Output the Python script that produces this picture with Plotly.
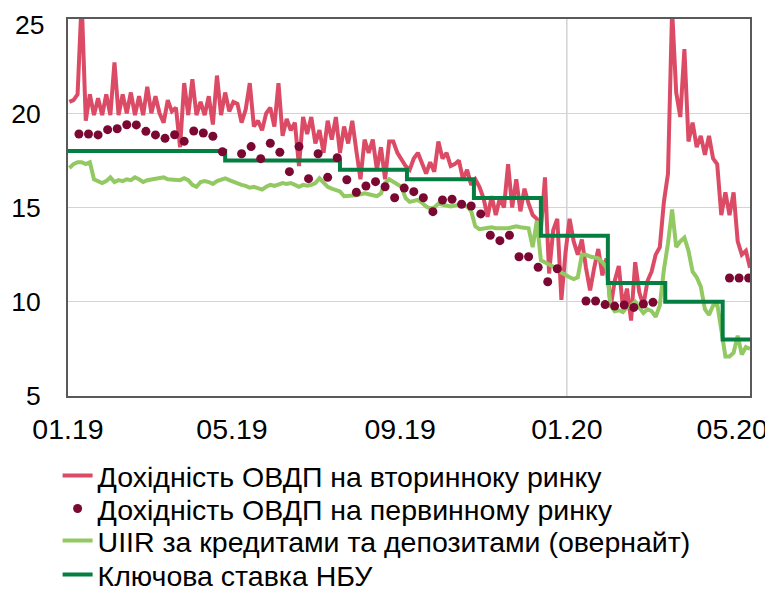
import pandas as pd
import plotly.graph_objects as go

# secondary market OVDP yield, read every 3 days from 02.01.2019
secondary = [
    20.6, 20.7, 21.0, 26.0, 19.6, 21.0, 19.9, 20.8, 19.9, 21.0,
    19.9, 22.7, 19.9, 21.0, 20.0, 21.1, 19.9, 20.9, 19.9, 21.4,
    20.0, 20.9, 20.0, 19.5, 20.7, 20.1, 20.3, 18.2, 21.6, 19.9,
    21.8, 19.9, 20.6, 19.9, 20.9, 19.4, 22.0, 19.9, 21.1, 20.1,
    20.6, 20.5, 19.5, 20.2, 21.6, 19.3, 19.6, 19.1, 20.0, 20.3,
    19.3, 21.6, 18.8, 19.7, 19.1, 19.5, 17.2, 19.8, 18.9, 19.8,
    18.4, 19.1, 17.9, 19.6, 18.6, 19.8, 17.9, 19.3, 18.4, 19.6,
    18.0, 16.5, 18.6, 17.9, 18.6, 17.0, 18.2, 16.5, 18.5, 18.5,
    17.9, 17.5, 17.2, 17.0, 17.6, 17.9, 17.4, 16.8, 17.4, 16.9,
    18.5, 17.6, 17.9, 17.2, 17.3, 17.5, 16.5, 17.0, 16.2, 16.5,
    16.1, 15.5, 14.5, 15.6, 14.6, 15.5, 15.0, 17.3, 15.0, 16.5,
    14.8, 16.0, 15.2, 14.6, 14.4, 13.8, 16.6, 11.5, 13.8, 14.4,
    10.1, 12.6, 14.4, 13.2, 12.5, 13.3, 11.8, 10.6, 11.8, 12.8,
    11.4, 12.3, 9.7, 11.1, 11.9, 9.7, 10.7, 9.0, 12.1, 10.5,
    9.8, 11.1, 11.6, 12.5, 12.9, 15.3, 16.8, 25.5, 21.1, 19.8,
    23.4, 18.5, 19.5, 18.2, 18.8, 17.8, 18.8, 17.6, 17.3, 14.6,
    15.8, 14.6, 15.8, 13.2, 12.5, 12.7, 11.8,
]

# UIIR overnight, same dates
uiir = [
    17.1, 17.3, 17.4, 17.4, 17.3, 17.4, 16.5, 16.4, 16.3, 16.4,
    16.6, 16.35, 16.45, 16.4, 16.5, 16.45, 16.6, 16.5, 16.35, 16.45,
    16.5, 16.5, 16.55, 16.6, 16.5, 16.5, 16.5, 16.45, 16.55, 16.45,
    16.2, 16.1, 16.35, 16.4, 16.35, 16.25, 16.4, 16.5, 16.55, 16.45,
    16.35, 16.25, 16.2, 16.15, 16.05, 16.1, 16.0, 15.95, 16.1, 16.2,
    16.15, 16.25, 16.3, 16.25, 16.3, 16.2, 16.1, 16.2, 16.15, 16.2,
    16.3, 16.55, 16.3, 16.1, 16.0, 15.95, 15.85, 15.6, 15.6, 15.6,
    15.65, 15.7, 15.75, 15.7, 15.65, 15.6, 15.75, 16.3, 16.5, 16.35,
    16.25, 16.1, 15.5, 15.3, 15.35, 15.4, 15.25, 15.05, 14.95, 15.0,
    15.2, 15.15, 15.1, 15.05, 15.1, 15.15, 15.1, 15.05, 14.8, 14.0,
    13.85, 13.9, 13.95, 13.95, 13.9, 13.9, 13.85, 13.9, 13.95, 14.0,
    13.95, 13.95, 13.9, 12.9, 14.3, 12.2, 12.1, 12.0, 11.9, 11.75,
    11.55, 11.4, 11.3, 11.2, 11.3, 12.5, 12.5, 12.4, 12.35, 12.3,
    12.1, 11.8, 9.8, 9.5, 9.55, 9.45, 9.7, 9.8, 10.0, 9.7,
    9.4, 9.6, 9.5, 9.2, 9.8, 11.7, 13.1, 14.9, 12.9, 13.2,
    13.4, 12.7, 11.6, 11.3, 10.8, 9.6, 9.3, 9.8, 9.9, 8.5,
    7.1, 7.1, 7.3, 8.2, 7.2, 7.6, 7.5,
]

# primary market auctions
primary_dates = [
    "2019-01-09", "2019-01-16", "2019-01-23", "2019-01-30", "2019-02-06",
    "2019-02-13", "2019-02-20", "2019-02-27", "2019-03-06", "2019-03-13",
    "2019-03-20", "2019-03-27", "2019-04-03", "2019-04-10", "2019-04-17",
    "2019-04-24", "2019-05-08", "2019-05-15", "2019-05-22", "2019-05-29",
    "2019-06-05", "2019-06-12", "2019-06-19", "2019-06-26", "2019-07-03",
    "2019-07-10", "2019-07-17", "2019-07-24", "2019-07-31", "2019-08-07",
    "2019-08-14", "2019-08-21", "2019-08-28", "2019-09-04", "2019-09-11",
    "2019-09-18", "2019-09-25", "2019-10-02", "2019-10-09", "2019-10-16",
    "2019-10-23", "2019-10-30", "2019-11-06", "2019-11-13", "2019-11-20",
    "2019-11-27", "2019-12-04", "2019-12-11", "2019-12-18", "2019-12-25",
    "2020-01-15", "2020-01-22", "2020-01-29", "2020-02-05", "2020-02-12",
    "2020-02-19", "2020-02-26", "2020-03-04", "2020-04-29", "2020-05-06",
    "2020-05-13",
]
primary = [
    18.90, 18.90, 18.85, 19.13, 19.18, 19.39, 19.38, 19.04, 18.85, 18.67,
    18.86, 18.51, 19.06, 18.95, 18.78, 17.96, 17.85, 18.23, 17.59, 18.41,
    17.93, 16.90, 18.23, 16.53, 17.85, 16.60, 17.64, 16.47, 15.81, 16.14,
    16.37, 16.10, 15.52, 16.03, 15.84, 15.52, 14.78, 15.40, 15.44, 15.17,
    15.08, 14.66, 13.53, 13.24, 13.53, 12.39, 12.39, 11.83, 11.06, 11.75,
    10.04, 10.04, 9.85, 9.77, 9.83, 9.70, 9.88, 9.97, 11.26, 11.26,
    11.26,
]

# NBU key policy rate decisions
rate_dates = ["2019-01-01", "2019-04-26", "2019-07-19", "2019-09-06", "2019-10-25",
              "2019-12-13", "2020-01-31", "2020-03-13", "2020-04-24", "2020-05-14"]
rate = [18.0, 17.5, 17.0, 16.5, 15.5, 13.5, 11.0, 10.0, 8.0, 8.0]

tick_dates = ["2019-01-01", "2019-05-01", "2019-09-01", "2020-01-01", "2020-05-01"]
tick_text = ["01.19", "05.19", "09.19", "01.20", "05.20"]
y_ticks = [5, 10, 15, 20, 25]

names = [
    "Дохідність ОВДП на вторинноку ринку",
    "Дохідність ОВДП на первинному ринку",
    "UIIR за кредитами та депозитами (овернайт)",
    "Ключова ставка НБУ",
]

days = pd.date_range("2019-01-02", periods=len(secondary), freq="3D")

fig = go.Figure()
fig.add_trace(go.Scatter(x=days, y=secondary, name=names[0], mode="lines",
                         line=dict(color="#DC4B65", width=4), legend="legend"))
fig.add_trace(go.Scatter(x=days, y=uiir, name=names[2], mode="lines",
                         line=dict(color="#92C962", width=4), legend="legend3"))
fig.add_trace(go.Scatter(x=rate_dates, y=rate, name=names[3], mode="lines",
                         line=dict(color="#047F41", width=4, shape="hv"), legend="legend4"))
fig.add_trace(go.Scatter(x=primary_dates, y=primary, name=names[1], mode="markers",
                         marker=dict(color="#7A0832", size=9), legend="legend2"))

fig.add_vline(x="2020-01-01", line=dict(color="#C4C8CC", width=1.2), layer="below")

# top label sits a little lower than its tick, as in the source, so it is not cut
fig.add_annotation(text=str(y_ticks[-1]), xref="paper", x=0, y=y_ticks[-1],
                   xanchor="right", yanchor="middle", xshift=-22, yshift=-6,
                   showarrow=False, font=dict(size=26.5))

# the page has an 8px body margin, so the figure is 8px smaller than the window
W, H = 765, 583

# one legend per row so the rows sit where they are in the source
leg = dict(xref="container", yref="container", x=49.6 / W, xanchor="left",
           yanchor="middle", font=dict(size=28.5), bgcolor="rgba(0,0,0,0)")
rows = [468, 501, 533, 567]

fig.update_layout(
    width=W, height=H,
    margin=dict(l=60, r=23, t=11, b=195, autoexpand=False),
    paper_bgcolor="white", plot_bgcolor="white",
    font=dict(family="Liberation Sans, Arial", size=28.5, color="black"),
    showlegend=True,
    legend=dict(leg, y=1 - rows[0] / H),
    legend2=dict(leg, y=1 - rows[1] / H),
    legend3=dict(leg, y=1 - rows[2] / H),
    legend4=dict(leg, y=1 - rows[3] / H),
)
fig.update_xaxes(
    type="date", range=["2019-01-01", "2020-05-14"],
    tickvals=tick_dates, ticktext=tick_text, automargin=False,
    showgrid=False, showline=True, linecolor="#595959", linewidth=2, mirror=True,
    ticks="", ticklabelstandoff=7, ticklabeloverflow="allow",
)
fig.update_yaxes(
    range=[5, 25], tickvals=y_ticks, ticktext=[str(v) for v in y_ticks[:-1]] + [""],
    automargin=False, tickfont=dict(size=26.5),
    showgrid=True, gridcolor="#D4D4D4", gridwidth=1,
    showline=True, linecolor="#595959", linewidth=2, mirror=True,
    zeroline=False, ticks="", ticklabelstandoff=20, ticklabeloverflow="allow",
)

fig.write_html("out.html")
